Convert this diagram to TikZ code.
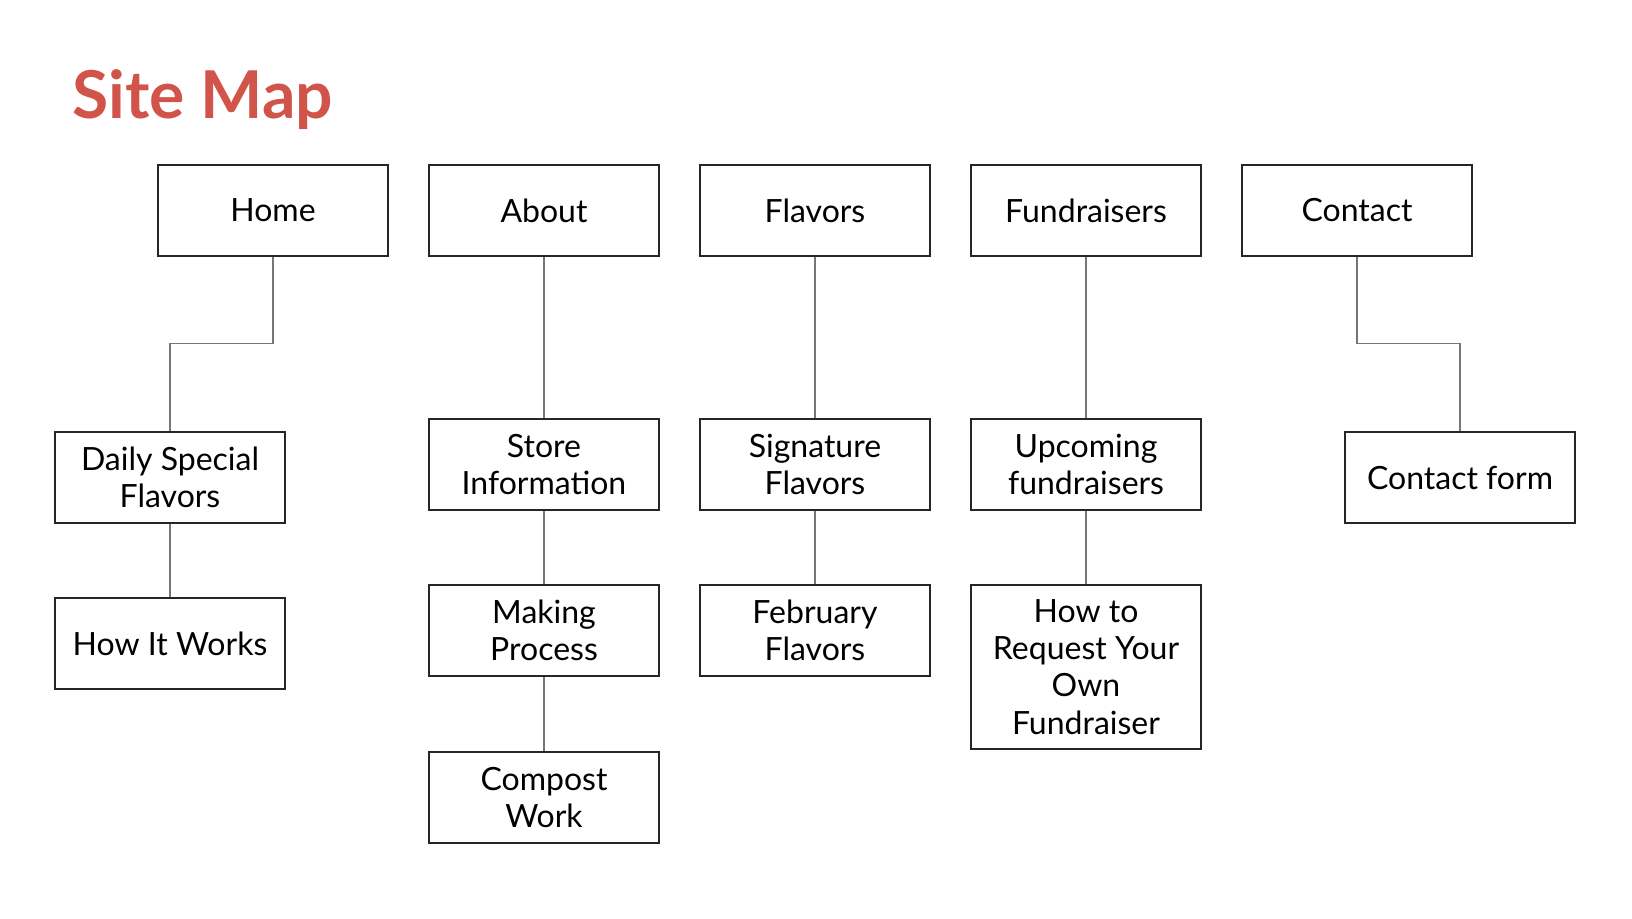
\documentclass[tikz,border=0pt]{standalone}
\usepackage{fontspec}
\setmainfont{Lato}
\usepackage{tikz}
\usetikzlibrary{calc}
\definecolor{titlered}{RGB}{209,84,74}
\definecolor{linkgray}{RGB}{118,118,118}
\tikzset{
  pagebox/.style={draw=black!85, line width=0.7pt, minimum width=115pt,
    minimum height=45.5pt, inner sep=0pt, align=center,
    font=\fontsize{16}{18.6}\selectfont},
  link/.style={draw=linkgray, line width=0.65pt}
}

\begin{document}
\begin{tikzpicture}[x=0.5pt,y=-0.5pt]
\useasboundingbox (0,0) rectangle (1632,918);
\node[anchor=base west, text=titlered, inner sep=0pt,
  font=\fontsize{33}{40}\selectfont\bfseries] (title) at (72,118) {Site Map};
% top row
\node[pagebox] (home) at (273,210.5) {Home};
\node[pagebox] (about) at (544,210.5) {About};
\node[pagebox] (flavors) at (815,210.5) {Flavors};
\node[pagebox] (fund) at (1086,210.5) {Fundraisers};
\node[pagebox] (contact) at (1357,210.5) {Contact};
% sub pages
\node[pagebox] (daily) at (170,477.5) {Daily Special\\Flavors};
\node[pagebox] (works) at (170,643.5) {How It Works};
\node[pagebox] (store) at (544,464.5) {Store\\Information};
\node[pagebox] (making) at (544,630.5) {Making\\Process};
\node[pagebox] (compost) at (544,797.5) {Compost\\Work};
\node[pagebox] (signature) at (815,464.5) {Signature\\Flavors};
\node[pagebox] (february) at (815,630.5) {February\\Flavors};
\node[pagebox] (upcoming) at (1086,464.5) {Upcoming\\fundraisers};
\node[pagebox, minimum height=82pt] (request) at (1086,667) {How to\\Request Your\\Own\\Fundraiser};
\node[pagebox] (form) at (1460,477.5) {Contact form};
% joints
\coordinate (homejoin) at (170,343.5);
\coordinate (contactjoin) at (1460,343.5);
% connectors
\draw[link] (home.south) |- (homejoin) -- (daily.north);
\draw[link] (daily.south) -- (works.north);
\draw[link] (about.south) -- (store.north);
\draw[link] (store.south) -- (making.north);
\draw[link] (making.south) -- (compost.north);
\draw[link] (flavors.south) -- (signature.north);
\draw[link] (signature.south) -- (february.north);
\draw[link] (fund.south) -- (upcoming.north);
\draw[link] (upcoming.south) -- (request.north);
\draw[link] (contact.south) |- (contactjoin) -- (form.north);
\end{tikzpicture}
\end{document}
